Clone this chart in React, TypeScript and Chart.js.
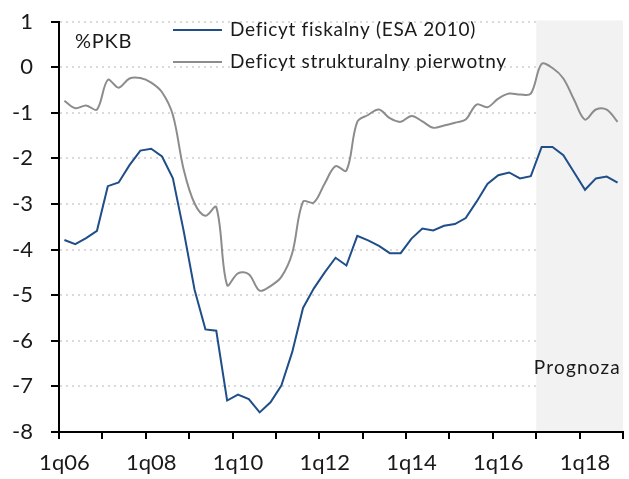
import React, { useEffect, useRef } from 'react';
import { Chart, registerables } from 'chart.js';

Chart.register(...registerables);

const years: string[] = ['06', '07', '08', '09', '10', '11', '12', '13', '14', '15', '16', '17', '18'];
const categories: string[] = years.flatMap((y) => ['1', '2', '3', '4'].map((q) => `${q}q${y}`));

const fiscalDeficit: number[] = [
  -3.79, -3.88, -3.75, -3.59, -2.61, -2.53, -2.15, -1.83,
  -1.79, -1.96, -2.44, -3.60, -4.88, -5.75, -5.78, -7.31,
  -7.18, -7.28, -7.57, -7.35, -6.98, -6.25, -5.28, -4.85,
  -4.50, -4.18, -4.35, -3.70, -3.80, -3.92, -4.08, -4.08,
  -3.76, -3.54, -3.58, -3.48, -3.44, -3.31, -2.95, -2.56,
  -2.37, -2.31, -2.44, -2.39, -1.75, -1.75, -1.93, -2.31,
  -2.69, -2.44, -2.40, -2.53,
];

const structuralPrimary: number[] = [
  -0.74, -0.90, -0.84, -0.93, -0.28, -0.45, -0.25, -0.24,
  -0.34, -0.55, -1.05, -2.25, -2.99, -3.26, -3.07, -4.78,
  -4.52, -4.54, -4.90, -4.80, -4.60, -4.08, -2.95, -2.97,
  -2.55, -2.17, -2.27, -1.20, -1.05, -0.93, -1.12, -1.20,
  -1.07, -1.19, -1.33, -1.28, -1.22, -1.15, -0.82, -0.88,
  -0.69, -0.58, -0.60, -0.58, 0.07, -0.02, -0.25, -0.72,
  -1.15, -0.93, -0.93, -1.20,
];

const seriesLabels: string[] = ['Deficyt fiskalny (ESA 2010)', 'Deficyt strukturalny pierwotny'];
const unitLabel = '%PKB';
const forecastLabel = 'Prognoza';
const forecastStart = '1q17';
const yMin = -8;
const yMax = 1;

const FONT = 'Lato';
const TEXT = '#1a1a1a';

const overlayPlugin = {
  id: 'overlay',
  beforeDatasetsDraw(chart: any) {
    const { ctx, chartArea, scales } = chart;
    const xs = scales.x;
    const ys = scales.y;
    const idx = categories.indexOf(forecastStart);
    const half = (xs.getPixelForValue(1) - xs.getPixelForValue(0)) / 2;
    const left = xs.getPixelForValue(idx) - half;
    const top = ys.getPixelForValue(yMax) - 1;
    ctx.save();
    ctx.fillStyle = '#f2f2f2';
    ctx.fillRect(left, top, chartArea.right - left, chartArea.bottom - 1 - top);
    ctx.restore();
  },
  afterDraw(chart: any) {
    const { ctx } = chart;
    ctx.save();
    ctx.font = `19px ${FONT}`;
    (ctx as any).letterSpacing = '0.7px';
    ctx.textBaseline = 'middle';
    chart.data.datasets.forEach((ds: any, i: number) => {
      const y = 30 + i * 32;
      ctx.strokeStyle = ds.borderColor;
      ctx.lineWidth = 2;
      ctx.beginPath();
      ctx.moveTo(173, y);
      ctx.lineTo(222, y);
      ctx.stroke();
      ctx.fillStyle = TEXT;
      ctx.textAlign = 'left';
      ctx.fillText(ds.label, 230, y);
    });
    ctx.fillStyle = TEXT;
    ctx.textAlign = 'left';
    ctx.font = `20px ${FONT}`;
    ctx.fillText(unitLabel, 75, 42);
    ctx.font = `19px ${FONT}`;
    (ctx as any).letterSpacing = '1.2px';
    ctx.textAlign = 'right';
    ctx.fillText(forecastLabel, 621, 368);
    ctx.restore();
  },
};

export default function App() {
  const canvasRef = useRef<HTMLCanvasElement | null>(null);

  useEffect(() => {
    if (!canvasRef.current) return;
    const chart = new Chart(canvasRef.current, {
      type: 'line',
      data: {
        labels: categories,
        datasets: [
          {
            label: seriesLabels[0],
            data: fiscalDeficit,
            borderColor: '#1f4e89',
            borderWidth: 2,
            pointRadius: 0,
            tension: 0,
            fill: false,
          },
          {
            label: seriesLabels[1],
            data: structuralPrimary,
            borderColor: '#8c8c8c',
            borderWidth: 2,
            pointRadius: 0,
            tension: 0.35,
            fill: false,
          },
        ],
      },
      options: {
        animation: false,
        responsive: false,
        maintainAspectRatio: false,
        events: [],
        layout: { padding: { left: 0, right: 6, top: 21.5, bottom: 0 } },
        plugins: {
          legend: { display: false },
          tooltip: { enabled: false },
          title: { display: false },
        },
        scales: {
          x: {
            type: 'category',
            offset: true,
            grid: {
              offset: true,
              drawOnChartArea: false,
              drawTicks: true,
              tickLength: 7,
              lineWidth: 2,
              color: (ctx: any) =>
                ctx.index === undefined || ctx.index % 4 === 0 ? '#000' : 'rgba(0,0,0,0)',
            },
            border: { display: true, color: '#000', width: 2 },
            ticks: {
              autoSkip: false,
              maxRotation: 0,
              minRotation: 0,
              padding: 11,
              color: TEXT,
              font: { family: FONT, size: 22 },
              callback: (_v: any, idx: number) => (idx % 8 === 0 ? categories[idx] : ''),
            },
            afterFit: (scale: any) => {
              scale.height = 47;
              scale.paddingLeft = 0;
              scale.paddingRight = 0;
            },
          },
          y: {
            min: yMin,
            max: yMax,
            grid: {
              drawOnChartArea: true,
              drawTicks: true,
              tickLength: 8,
              lineWidth: 2,
              tickWidth: 2,
              tickColor: '#000',
              color: (ctx: any) =>
                ctx.tick && ctx.tick.value === yMin ? 'rgba(0,0,0,0)' : '#dadada',
            },
            border: { display: true, color: '#000', width: 2, dash: [2, 4] },
            ticks: {
              stepSize: 1,
              padding: 18,
              color: TEXT,
              font: { family: FONT, size: 22 },
            },
            afterFit: (scale: any) => {
              scale.width = 59;
              scale.paddingTop = 0;
              scale.paddingBottom = 0;
            },
          },
        },
      },
      plugins: [overlayPlugin],
    });
    return () => chart.destroy();
  }, []);

  return (
    <div style={{ position: 'fixed', left: 0, top: 0, width: 629, height: 479, background: '#fff' }}>
      <canvas ref={canvasRef} width={629} height={479} style={{ width: 629, height: 479, display: 'block' }} />
    </div>
  );
}
